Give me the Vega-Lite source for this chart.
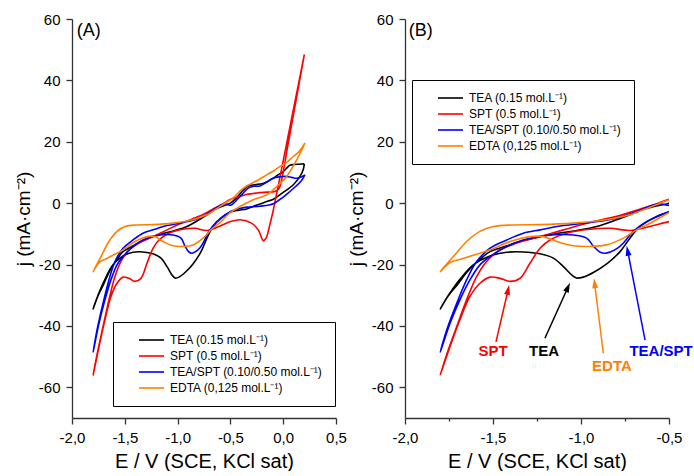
{
"$schema": "https://vega.github.io/schema/vega-lite/v6.json",
"padding": {"left": 14, "top": 12, "right": 0, "bottom": 0},
"bounds": "flush",
"spacing": 69,
"config": {
 "view": {"stroke": null},
 "font": "Liberation Sans",
 "axis": {"grid": false, "domainColor": "#333333", "tickColor": "#333333", "domainWidth": 1.3, "tickWidth": 1.3, "labelFont": "Liberation Sans", "labelFontSize": 15, "labelColor": "#000000", "titleFont": "Liberation Sans", "titleFontWeight": "normal", "titleColor": "#000000", "labelPadding": 6, "labelFlush": false, "labelOverlap": false, "labelBound": false},
 "axisX": {"titleFontSize": 20, "titlePadding": 6},
 "axisY": {"titleFontSize": 19, "titlePadding": 5},
 "legend": {"strokeColor": "#000000", "strokeWidth": 1, "fillColor": "#ffffff", "padding": 12, "labelFont": "Liberation Sans", "labelFontSize": 12, "labelColor": "#000000", "symbolType": "stroke", "symbolSize": 625, "symbolStrokeWidth": 1.6, "clipHeight": 12, "rowPadding": 4, "symbolOffset": 13, "labelOffset": 5}
},
"datasets": {
 "cv": [
  {"s":"TEA (0.15 mol.L⁻¹)","i":0,"E":0.2,"j":12.8},{"s":"TEA (0.15 mol.L⁻¹)","i":1,"E":0.15,"j":12.7},{"s":"TEA (0.15 mol.L⁻¹)","i":2,"E":0.1,"j":12.6},{"s":"TEA (0.15 mol.L⁻¹)","i":3,"E":0.06,"j":12.3},{"s":"TEA (0.15 mol.L⁻¹)","i":4,"E":0.03,"j":11.3},{"s":"TEA (0.15 mol.L⁻¹)","i":5,"E":0.0,"j":10.3},{"s":"TEA (0.15 mol.L⁻¹)","i":6,"E":-0.05,"j":9.2},{"s":"TEA (0.15 mol.L⁻¹)","i":7,"E":-0.1,"j":8.0},{"s":"TEA (0.15 mol.L⁻¹)","i":8,"E":-0.15,"j":7.0},{"s":"TEA (0.15 mol.L⁻¹)","i":9,"E":-0.2,"j":6.3},{"s":"TEA (0.15 mol.L⁻¹)","i":10,"E":-0.27,"j":6.0},{"s":"TEA (0.15 mol.L⁻¹)","i":11,"E":-0.33,"j":5.6},{"s":"TEA (0.15 mol.L⁻¹)","i":12,"E":-0.38,"j":4.2},{"s":"TEA (0.15 mol.L⁻¹)","i":13,"E":-0.44,"j":1.8},{"s":"TEA (0.15 mol.L⁻¹)","i":14,"E":-0.5,"j":0.0},{"s":"TEA (0.15 mol.L⁻¹)","i":15,"E":-0.57,"j":-0.9},{"s":"TEA (0.15 mol.L⁻¹)","i":16,"E":-0.646,"j":-2.0},{"s":"TEA (0.15 mol.L⁻¹)","i":17,"E":-0.722,"j":-3.8},{"s":"TEA (0.15 mol.L⁻¹)","i":18,"E":-0.797,"j":-5.4},{"s":"TEA (0.15 mol.L⁻¹)","i":19,"E":-0.911,"j":-7.6},{"s":"TEA (0.15 mol.L⁻¹)","i":20,"E":-1.025,"j":-8.9},{"s":"TEA (0.15 mol.L⁻¹)","i":21,"E":-1.13,"j":-9.8},{"s":"TEA (0.15 mol.L⁻¹)","i":22,"E":-1.233,"j":-10.9},{"s":"TEA (0.15 mol.L⁻¹)","i":23,"E":-1.33,"j":-12.2},{"s":"TEA (0.15 mol.L⁻¹)","i":24,"E":-1.422,"j":-13.9},{"s":"TEA (0.15 mol.L⁻¹)","i":25,"E":-1.517,"j":-15.8},{"s":"TEA (0.15 mol.L⁻¹)","i":26,"E":-1.58,"j":-18.6},{"s":"TEA (0.15 mol.L⁻¹)","i":27,"E":-1.65,"j":-22.6},{"s":"TEA (0.15 mol.L⁻¹)","i":28,"E":-1.7,"j":-26.4},{"s":"TEA (0.15 mol.L⁻¹)","i":29,"E":-1.754,"j":-30.2},{"s":"TEA (0.15 mol.L⁻¹)","i":30,"E":-1.8,"j":-34.5},{"s":"TEA (0.15 mol.L⁻¹)","i":31,"E":-1.77,"j":-31.5},{"s":"TEA (0.15 mol.L⁻¹)","i":32,"E":-1.73,"j":-28.0},{"s":"TEA (0.15 mol.L⁻¹)","i":33,"E":-1.688,"j":-24.8},{"s":"TEA (0.15 mol.L⁻¹)","i":34,"E":-1.612,"j":-20.1},{"s":"TEA (0.15 mol.L⁻¹)","i":35,"E":-1.517,"j":-17.2},{"s":"TEA (0.15 mol.L⁻¹)","i":36,"E":-1.422,"j":-16.0},{"s":"TEA (0.15 mol.L⁻¹)","i":37,"E":-1.328,"j":-15.9},{"s":"TEA (0.15 mol.L⁻¹)","i":38,"E":-1.233,"j":-16.5},{"s":"TEA (0.15 mol.L⁻¹)","i":39,"E":-1.157,"j":-17.9},{"s":"TEA (0.15 mol.L⁻¹)","i":40,"E":-1.1,"j":-20.7},{"s":"TEA (0.15 mol.L⁻¹)","i":41,"E":-1.053,"j":-23.4},{"s":"TEA (0.15 mol.L⁻¹)","i":42,"E":-1.025,"j":-24.4},{"s":"TEA (0.15 mol.L⁻¹)","i":43,"E":-0.987,"j":-24.1},{"s":"TEA (0.15 mol.L⁻¹)","i":44,"E":-0.93,"j":-22.6},{"s":"TEA (0.15 mol.L⁻¹)","i":45,"E":-0.854,"j":-19.8},{"s":"TEA (0.15 mol.L⁻¹)","i":46,"E":-0.778,"j":-15.8},{"s":"TEA (0.15 mol.L⁻¹)","i":47,"E":-0.722,"j":-11.4},{"s":"TEA (0.15 mol.L⁻¹)","i":48,"E":-0.665,"j":-7.6},{"s":"TEA (0.15 mol.L⁻¹)","i":49,"E":-0.589,"j":-4.9},{"s":"TEA (0.15 mol.L⁻¹)","i":50,"E":-0.498,"j":-2.9},{"s":"TEA (0.15 mol.L⁻¹)","i":51,"E":-0.42,"j":-2.3},{"s":"TEA (0.15 mol.L⁻¹)","i":52,"E":-0.346,"j":-1.9},{"s":"TEA (0.15 mol.L⁻¹)","i":53,"E":-0.28,"j":-1.0},{"s":"TEA (0.15 mol.L⁻¹)","i":54,"E":-0.22,"j":-0.3},{"s":"TEA (0.15 mol.L⁻¹)","i":55,"E":-0.15,"j":0.6},{"s":"TEA (0.15 mol.L⁻¹)","i":56,"E":-0.093,"j":1.3},{"s":"TEA (0.15 mol.L⁻¹)","i":57,"E":0.0,"j":3.5},{"s":"TEA (0.15 mol.L⁻¹)","i":58,"E":0.096,"j":6.0},{"s":"TEA (0.15 mol.L⁻¹)","i":59,"E":0.159,"j":8.7},{"s":"TEA (0.15 mol.L⁻¹)","i":60,"E":0.19,"j":11.0},{"s":"TEA (0.15 mol.L⁻¹)","i":61,"E":0.2,"j":12.8},
  {"s":"SPT (0.5 mol.L⁻¹)","i":0,"E":0.2,"j":48.4},{"s":"SPT (0.5 mol.L⁻¹)","i":1,"E":0.12,"j":33.2},{"s":"SPT (0.5 mol.L⁻¹)","i":2,"E":0.04,"j":18.0},{"s":"SPT (0.5 mol.L⁻¹)","i":3,"E":-0.01,"j":8.4},{"s":"SPT (0.5 mol.L⁻¹)","i":4,"E":-0.04,"j":4.8},{"s":"SPT (0.5 mol.L⁻¹)","i":5,"E":-0.08,"j":3.8},{"s":"SPT (0.5 mol.L⁻¹)","i":6,"E":-0.15,"j":3.6},{"s":"SPT (0.5 mol.L⁻¹)","i":7,"E":-0.25,"j":3.3},{"s":"SPT (0.5 mol.L⁻¹)","i":8,"E":-0.35,"j":2.8},{"s":"SPT (0.5 mol.L⁻¹)","i":9,"E":-0.43,"j":2.0},{"s":"SPT (0.5 mol.L⁻¹)","i":10,"E":-0.498,"j":1.3},{"s":"SPT (0.5 mol.L⁻¹)","i":11,"E":-0.57,"j":-0.2},{"s":"SPT (0.5 mol.L⁻¹)","i":12,"E":-0.646,"j":-1.6},{"s":"SPT (0.5 mol.L⁻¹)","i":13,"E":-0.722,"j":-3.0},{"s":"SPT (0.5 mol.L⁻¹)","i":14,"E":-0.797,"j":-4.3},{"s":"SPT (0.5 mol.L⁻¹)","i":15,"E":-0.949,"j":-6.3},{"s":"SPT (0.5 mol.L⁻¹)","i":16,"E":-1.1,"j":-8.7},{"s":"SPT (0.5 mol.L⁻¹)","i":17,"E":-1.233,"j":-10.9},{"s":"SPT (0.5 mol.L⁻¹)","i":18,"E":-1.366,"j":-13.0},{"s":"SPT (0.5 mol.L⁻¹)","i":19,"E":-1.46,"j":-15.2},{"s":"SPT (0.5 mol.L⁻¹)","i":20,"E":-1.536,"j":-19.0},{"s":"SPT (0.5 mol.L⁻¹)","i":21,"E":-1.593,"j":-23.9},{"s":"SPT (0.5 mol.L⁻¹)","i":22,"E":-1.65,"j":-31.5},{"s":"SPT (0.5 mol.L⁻¹)","i":23,"E":-1.706,"j":-40.2},{"s":"SPT (0.5 mol.L⁻¹)","i":24,"E":-1.754,"j":-47.8},{"s":"SPT (0.5 mol.L⁻¹)","i":25,"E":-1.8,"j":-56.0},{"s":"SPT (0.5 mol.L⁻¹)","i":26,"E":-1.744,"j":-46.7},{"s":"SPT (0.5 mol.L⁻¹)","i":27,"E":-1.688,"j":-38.0},{"s":"SPT (0.5 mol.L⁻¹)","i":28,"E":-1.631,"j":-30.4},{"s":"SPT (0.5 mol.L⁻¹)","i":29,"E":-1.574,"j":-26.1},{"s":"SPT (0.5 mol.L⁻¹)","i":30,"E":-1.517,"j":-24.1},{"s":"SPT (0.5 mol.L⁻¹)","i":31,"E":-1.46,"j":-24.5},{"s":"SPT (0.5 mol.L⁻¹)","i":32,"E":-1.403,"j":-25.5},{"s":"SPT (0.5 mol.L⁻¹)","i":33,"E":-1.347,"j":-24.5},{"s":"SPT (0.5 mol.L⁻¹)","i":34,"E":-1.29,"j":-19.6},{"s":"SPT (0.5 mol.L⁻¹)","i":35,"E":-1.233,"j":-14.7},{"s":"SPT (0.5 mol.L⁻¹)","i":36,"E":-1.176,"j":-12.0},{"s":"SPT (0.5 mol.L⁻¹)","i":37,"E":-1.081,"j":-9.8},{"s":"SPT (0.5 mol.L⁻¹)","i":38,"E":-0.949,"j":-8.5},{"s":"SPT (0.5 mol.L⁻¹)","i":39,"E":-0.835,"j":-8.2},{"s":"SPT (0.5 mol.L⁻¹)","i":40,"E":-0.722,"j":-8.9},{"s":"SPT (0.5 mol.L⁻¹)","i":41,"E":-0.608,"j":-7.6},{"s":"SPT (0.5 mol.L⁻¹)","i":42,"E":-0.498,"j":-6.0},{"s":"SPT (0.5 mol.L⁻¹)","i":43,"E":-0.409,"j":-5.4},{"s":"SPT (0.5 mol.L⁻¹)","i":44,"E":-0.3,"j":-6.5},{"s":"SPT (0.5 mol.L⁻¹)","i":45,"E":-0.235,"j":-8.8},{"s":"SPT (0.5 mol.L⁻¹)","i":46,"E":-0.188,"j":-12.2},{"s":"SPT (0.5 mol.L⁻¹)","i":47,"E":-0.16,"j":-11.2},{"s":"SPT (0.5 mol.L⁻¹)","i":48,"E":-0.13,"j":-7.5},{"s":"SPT (0.5 mol.L⁻¹)","i":49,"E":-0.1,"j":-3.2},{"s":"SPT (0.5 mol.L⁻¹)","i":50,"E":-0.08,"j":0.0},{"s":"SPT (0.5 mol.L⁻¹)","i":51,"E":0.0,"j":13.8},{"s":"SPT (0.5 mol.L⁻¹)","i":52,"E":0.1,"j":31.1},{"s":"SPT (0.5 mol.L⁻¹)","i":53,"E":0.2,"j":48.4},
  {"s":"TEA/SPT (0.10/0.50 mol.L⁻¹)","i":0,"E":0.206,"j":9.2},{"s":"TEA/SPT (0.10/0.50 mol.L⁻¹)","i":1,"E":0.17,"j":8.5},{"s":"TEA/SPT (0.10/0.50 mol.L⁻¹)","i":2,"E":0.128,"j":8.1},{"s":"TEA/SPT (0.10/0.50 mol.L⁻¹)","i":3,"E":0.08,"j":8.4},{"s":"TEA/SPT (0.10/0.50 mol.L⁻¹)","i":4,"E":0.033,"j":8.7},{"s":"TEA/SPT (0.10/0.50 mol.L⁻¹)","i":5,"E":-0.03,"j":8.6},{"s":"TEA/SPT (0.10/0.50 mol.L⁻¹)","i":6,"E":-0.093,"j":8.2},{"s":"TEA/SPT (0.10/0.50 mol.L⁻¹)","i":7,"E":-0.16,"j":6.8},{"s":"TEA/SPT (0.10/0.50 mol.L⁻¹)","i":8,"E":-0.22,"j":5.6},{"s":"TEA/SPT (0.10/0.50 mol.L⁻¹)","i":9,"E":-0.28,"j":5.5},{"s":"TEA/SPT (0.10/0.50 mol.L⁻¹)","i":10,"E":-0.33,"j":4.9},{"s":"TEA/SPT (0.10/0.50 mol.L⁻¹)","i":11,"E":-0.4,"j":2.5},{"s":"TEA/SPT (0.10/0.50 mol.L⁻¹)","i":12,"E":-0.46,"j":0.3},{"s":"TEA/SPT (0.10/0.50 mol.L⁻¹)","i":13,"E":-0.5,"j":-0.7},{"s":"TEA/SPT (0.10/0.50 mol.L⁻¹)","i":14,"E":-0.54,"j":-0.3},{"s":"TEA/SPT (0.10/0.50 mol.L⁻¹)","i":15,"E":-0.589,"j":-0.6},{"s":"TEA/SPT (0.10/0.50 mol.L⁻¹)","i":16,"E":-0.684,"j":-2.7},{"s":"TEA/SPT (0.10/0.50 mol.L⁻¹)","i":17,"E":-0.797,"j":-4.9},{"s":"TEA/SPT (0.10/0.50 mol.L⁻¹)","i":18,"E":-0.949,"j":-6.3},{"s":"TEA/SPT (0.10/0.50 mol.L⁻¹)","i":19,"E":-1.1,"j":-7.3},{"s":"TEA/SPT (0.10/0.50 mol.L⁻¹)","i":20,"E":-1.233,"j":-8.7},{"s":"TEA/SPT (0.10/0.50 mol.L⁻¹)","i":21,"E":-1.328,"j":-9.8},{"s":"TEA/SPT (0.10/0.50 mol.L⁻¹)","i":22,"E":-1.422,"j":-12.0},{"s":"TEA/SPT (0.10/0.50 mol.L⁻¹)","i":23,"E":-1.517,"j":-14.7},{"s":"TEA/SPT (0.10/0.50 mol.L⁻¹)","i":24,"E":-1.593,"j":-19.0},{"s":"TEA/SPT (0.10/0.50 mol.L⁻¹)","i":25,"E":-1.65,"j":-25.0},{"s":"TEA/SPT (0.10/0.50 mol.L⁻¹)","i":26,"E":-1.706,"j":-32.6},{"s":"TEA/SPT (0.10/0.50 mol.L⁻¹)","i":27,"E":-1.763,"j":-41.3},{"s":"TEA/SPT (0.10/0.50 mol.L⁻¹)","i":28,"E":-1.8,"j":-48.6},{"s":"TEA/SPT (0.10/0.50 mol.L⁻¹)","i":29,"E":-1.744,"j":-39.1},{"s":"TEA/SPT (0.10/0.50 mol.L⁻¹)","i":30,"E":-1.688,"j":-31.5},{"s":"TEA/SPT (0.10/0.50 mol.L⁻¹)","i":31,"E":-1.631,"j":-25.0},{"s":"TEA/SPT (0.10/0.50 mol.L⁻¹)","i":32,"E":-1.574,"j":-20.1},{"s":"TEA/SPT (0.10/0.50 mol.L⁻¹)","i":33,"E":-1.517,"j":-17.4},{"s":"TEA/SPT (0.10/0.50 mol.L⁻¹)","i":34,"E":-1.441,"j":-14.7},{"s":"TEA/SPT (0.10/0.50 mol.L⁻¹)","i":35,"E":-1.328,"j":-12.0},{"s":"TEA/SPT (0.10/0.50 mol.L⁻¹)","i":36,"E":-1.214,"j":-10.7},{"s":"TEA/SPT (0.10/0.50 mol.L⁻¹)","i":37,"E":-1.063,"j":-10.3},{"s":"TEA/SPT (0.10/0.50 mol.L⁻¹)","i":38,"E":-0.968,"j":-11.4},{"s":"TEA/SPT (0.10/0.50 mol.L⁻¹)","i":39,"E":-0.93,"j":-14.0},{"s":"TEA/SPT (0.10/0.50 mol.L⁻¹)","i":40,"E":-0.89,"j":-16.0},{"s":"TEA/SPT (0.10/0.50 mol.L⁻¹)","i":41,"E":-0.864,"j":-16.3},{"s":"TEA/SPT (0.10/0.50 mol.L⁻¹)","i":42,"E":-0.83,"j":-15.8},{"s":"TEA/SPT (0.10/0.50 mol.L⁻¹)","i":43,"E":-0.79,"j":-14.6},{"s":"TEA/SPT (0.10/0.50 mol.L⁻¹)","i":44,"E":-0.759,"j":-13.0},{"s":"TEA/SPT (0.10/0.50 mol.L⁻¹)","i":45,"E":-0.703,"j":-9.2},{"s":"TEA/SPT (0.10/0.50 mol.L⁻¹)","i":46,"E":-0.627,"j":-6.0},{"s":"TEA/SPT (0.10/0.50 mol.L⁻¹)","i":47,"E":-0.498,"j":-2.7},{"s":"TEA/SPT (0.10/0.50 mol.L⁻¹)","i":48,"E":-0.42,"j":-1.8},{"s":"TEA/SPT (0.10/0.50 mol.L⁻¹)","i":49,"E":-0.346,"j":-1.3},{"s":"TEA/SPT (0.10/0.50 mol.L⁻¹)","i":50,"E":-0.22,"j":-1.0},{"s":"TEA/SPT (0.10/0.50 mol.L⁻¹)","i":51,"E":-0.093,"j":-0.2},{"s":"TEA/SPT (0.10/0.50 mol.L⁻¹)","i":52,"E":0.0,"j":2.0},{"s":"TEA/SPT (0.10/0.50 mol.L⁻¹)","i":53,"E":0.064,"j":3.8},{"s":"TEA/SPT (0.10/0.50 mol.L⁻¹)","i":54,"E":0.12,"j":5.5},{"s":"TEA/SPT (0.10/0.50 mol.L⁻¹)","i":55,"E":0.17,"j":7.2},{"s":"TEA/SPT (0.10/0.50 mol.L⁻¹)","i":56,"E":0.206,"j":9.2},
  {"s":"EDTA (0,125 mol.L⁻¹)","i":0,"E":0.206,"j":19.6},{"s":"EDTA (0,125 mol.L⁻¹)","i":1,"E":0.15,"j":16.8},{"s":"EDTA (0,125 mol.L⁻¹)","i":2,"E":0.096,"j":15.2},{"s":"EDTA (0,125 mol.L⁻¹)","i":3,"E":0.03,"j":13.2},{"s":"EDTA (0,125 mol.L⁻¹)","i":4,"E":-0.03,"j":12.0},{"s":"EDTA (0,125 mol.L⁻¹)","i":5,"E":-0.1,"j":10.3},{"s":"EDTA (0,125 mol.L⁻¹)","i":6,"E":-0.157,"j":9.2},{"s":"EDTA (0,125 mol.L⁻¹)","i":7,"E":-0.25,"j":7.3},{"s":"EDTA (0,125 mol.L⁻¹)","i":8,"E":-0.346,"j":5.6},{"s":"EDTA (0,125 mol.L⁻¹)","i":9,"E":-0.41,"j":3.9},{"s":"EDTA (0,125 mol.L⁻¹)","i":10,"E":-0.47,"j":1.8},{"s":"EDTA (0,125 mol.L⁻¹)","i":11,"E":-0.54,"j":0.2},{"s":"EDTA (0,125 mol.L⁻¹)","i":12,"E":-0.608,"j":-1.3},{"s":"EDTA (0,125 mol.L⁻¹)","i":13,"E":-0.722,"j":-3.8},{"s":"EDTA (0,125 mol.L⁻¹)","i":14,"E":-0.854,"j":-5.4},{"s":"EDTA (0,125 mol.L⁻¹)","i":15,"E":-1.044,"j":-6.5},{"s":"EDTA (0,125 mol.L⁻¹)","i":16,"E":-1.233,"j":-7.0},{"s":"EDTA (0,125 mol.L⁻¹)","i":17,"E":-1.384,"j":-7.1},{"s":"EDTA (0,125 mol.L⁻¹)","i":18,"E":-1.498,"j":-7.6},{"s":"EDTA (0,125 mol.L⁻¹)","i":19,"E":-1.574,"j":-9.2},{"s":"EDTA (0,125 mol.L⁻¹)","i":20,"E":-1.65,"j":-12.5},{"s":"EDTA (0,125 mol.L⁻¹)","i":21,"E":-1.725,"j":-17.4},{"s":"EDTA (0,125 mol.L⁻¹)","i":22,"E":-1.8,"j":-22.3},{"s":"EDTA (0,125 mol.L⁻¹)","i":23,"E":-1.74,"j":-19.2},{"s":"EDTA (0,125 mol.L⁻¹)","i":24,"E":-1.68,"j":-18.2},{"s":"EDTA (0,125 mol.L⁻¹)","i":25,"E":-1.612,"j":-17.0},{"s":"EDTA (0,125 mol.L⁻¹)","i":26,"E":-1.517,"j":-15.2},{"s":"EDTA (0,125 mol.L⁻¹)","i":27,"E":-1.403,"j":-12.5},{"s":"EDTA (0,125 mol.L⁻¹)","i":28,"E":-1.29,"j":-10.9},{"s":"EDTA (0,125 mol.L⁻¹)","i":29,"E":-1.214,"j":-10.9},{"s":"EDTA (0,125 mol.L⁻¹)","i":30,"E":-1.138,"j":-12.5},{"s":"EDTA (0,125 mol.L⁻¹)","i":31,"E":-1.044,"j":-13.9},{"s":"EDTA (0,125 mol.L⁻¹)","i":32,"E":-0.949,"j":-14.1},{"s":"EDTA (0,125 mol.L⁻¹)","i":33,"E":-0.854,"j":-13.6},{"s":"EDTA (0,125 mol.L⁻¹)","i":34,"E":-0.759,"j":-11.4},{"s":"EDTA (0,125 mol.L⁻¹)","i":35,"E":-0.684,"j":-8.7},{"s":"EDTA (0,125 mol.L⁻¹)","i":36,"E":-0.589,"j":-6.0},{"s":"EDTA (0,125 mol.L⁻¹)","i":37,"E":-0.498,"j":-3.0},{"s":"EDTA (0,125 mol.L⁻¹)","i":38,"E":-0.409,"j":-1.1},{"s":"EDTA (0,125 mol.L⁻¹)","i":39,"E":-0.283,"j":1.1},{"s":"EDTA (0,125 mol.L⁻¹)","i":40,"E":-0.157,"j":2.7},{"s":"EDTA (0,125 mol.L⁻¹)","i":41,"E":-0.062,"j":5.4},{"s":"EDTA (0,125 mol.L⁻¹)","i":42,"E":0.033,"j":8.7},{"s":"EDTA (0,125 mol.L⁻¹)","i":43,"E":0.128,"j":14.1},{"s":"EDTA (0,125 mol.L⁻¹)","i":44,"E":0.206,"j":19.6}
 ],
 "arrows": [
  {"k":"SPT","i":0,"E":-1.483,"j":-45.2},{"k":"SPT","i":1,"E":-1.414,"j":-28.2},
  {"k":"TEA","i":0,"E":-1.205,"j":-44.0},{"k":"TEA","i":1,"E":-1.074,"j":-27.4},
  {"k":"EDTA","i":0,"E":-0.873,"j":-48.9},{"k":"EDTA","i":1,"E":-0.9227,"j":-26.1},
  {"k":"TEA/SPT","i":0,"E":-0.636,"j":-44.6},{"k":"TEA/SPT","i":1,"E":-0.735,"j":-15.5}
 ],
 "labels": [
  {"k":"SPT","E":-1.5,"j":-48.2},{"k":"TEA","E":-1.21,"j":-48.2},{"k":"EDTA","E":-0.824,"j":-53.1},{"k":"TEA/SPT","E":-0.545,"j":-48.2}
 ]
},
"resolve": {"legend": {"color": "independent"}, "scale": {"color": "independent"}},
"hconcat": [
 {
  "width": 264, "height": 399,
  "layer": [
   {
    "data": {"name": "cv"},
    "mark": {"type": "line", "interpolate": "catmull-rom", "strokeWidth": 1.6, "clip": true},
    "encoding": {
     "x": {"field": "E", "type": "quantitative", "scale": {"domain": [-2, 0.5], "nice": false, "zero": false},
       "axis": {"title": "E / V (SCE, KCl sat)", "values": [-2,-1.75,-1.5,-1.25,-1,-0.75,-0.5,-0.25,0,0.25,0.5],
         "labelExpr": "abs(datum.value*2 - round(datum.value*2)) < 0.01 ? replace(replace(format(datum.value, '.1f'), '.', ','), '\u2212', '-') : ''",
         "tickSize": {"condition": {"test": "abs(datum.value*2 - round(datum.value*2)) < 0.01", "value": 6}, "value": 3}}},
     "y": {"field": "j", "type": "quantitative", "scale": {"domain": [-70, 60], "nice": false, "zero": false},
       "axis": {"title": "j (mA·cm⁻²)", "values": [-60,-50,-40,-30,-20,-10,0,10,20,30,40,50,60],
         "labelExpr": "datum.value % 20 == 0 ? (datum.value < 0 ? '-' : '') + abs(datum.value) : ''",
         "tickSize": {"condition": {"test": "datum.value % 20 == 0", "value": 6}, "value": 3}}},
     "color": {"field": "s", "type": "nominal",
       "scale": {"domain": ["TEA (0.15 mol.L⁻¹)", "SPT (0.5 mol.L⁻¹)", "TEA/SPT (0.10/0.50 mol.L⁻¹)", "EDTA (0,125 mol.L⁻¹)"], "range": ["#000000", "#ff0000", "#0000ff", "#ff8000"]},
       "legend": {"title": null, "orient": "none", "legendX": 41, "legendY": 303, "labelExpr": "datum.label + '\u00a0\u00a0\u00a0\u00a0\u00a0\u00a0\u00a0'"}},
     "order": {"field": "i", "type": "quantitative"}
    }
   },
   {
    "data": {"values": [{"E": -1.955, "j": 59, "t": "(A)"}]},
    "mark": {"type": "text", "align": "left", "baseline": "top", "fontSize": 18, "font": "Liberation Sans", "color": "#000000"},
    "encoding": {"x": {"field": "E", "type": "quantitative"}, "y": {"field": "j", "type": "quantitative"}, "text": {"field": "t"}}
   }
  ]
 },
 {
  "width": 264, "height": 399,
  "layer": [
   {
    "data": {"name": "cv"},
    "mark": {"type": "line", "interpolate": "catmull-rom", "strokeWidth": 1.6, "clip": true},
    "encoding": {
     "x": {"field": "E", "type": "quantitative", "scale": {"domain": [-2, -0.5], "nice": false, "zero": false},
       "axis": {"title": "E / V (SCE, KCl sat)", "values": [-2,-1.75,-1.5,-1.25,-1,-0.75,-0.5],
         "labelExpr": "abs(datum.value*2 - round(datum.value*2)) < 0.01 ? replace(replace(format(datum.value, '.1f'), '.', ','), '\u2212', '-') : ''",
         "tickSize": {"condition": {"test": "abs(datum.value*2 - round(datum.value*2)) < 0.01", "value": 6}, "value": 3}}},
     "y": {"field": "j", "type": "quantitative", "scale": {"domain": [-70, 60], "nice": false, "zero": false},
       "axis": {"title": "j (mA·cm⁻²)", "values": [-60,-50,-40,-30,-20,-10,0,10,20,30,40,50,60],
         "labelExpr": "datum.value % 20 == 0 ? (datum.value < 0 ? '-' : '') + abs(datum.value) : ''",
         "tickSize": {"condition": {"test": "datum.value % 20 == 0", "value": 6}, "value": 3}}},
     "color": {"field": "s", "type": "nominal",
       "scale": {"domain": ["TEA (0.15 mol.L⁻¹)", "SPT (0.5 mol.L⁻¹)", "TEA/SPT (0.10/0.50 mol.L⁻¹)", "EDTA (0,125 mol.L⁻¹)"], "range": ["#000000", "#ff0000", "#0000ff", "#ff8000"]},
       "legend": {"title": null, "orient": "none", "legendX": 7, "legendY": 61, "labelExpr": "datum.label + '\u00a0\u00a0\u00a0\u00a0\u00a0\u00a0\u00a0'"}},
     "order": {"field": "i", "type": "quantitative"}
    }
   },
   {
    "data": {"name": "arrows"},
    "mark": {"type": "line", "strokeWidth": 1.5},
    "encoding": {"x": {"field": "E", "type": "quantitative"}, "y": {"field": "j", "type": "quantitative"},
      "stroke": {"field": "k", "type": "nominal", "scale": {"domain": ["TEA", "SPT", "TEA/SPT", "EDTA"], "range": ["#000000", "#ff0000", "#0000ff", "#ff8000"]}, "legend": null},
      "order": {"field": "i", "type": "quantitative"}}
   },
   {
    "data": {"name": "arrows"},
    "transform": [{"filter": "datum.i == 1 && datum.k == 'SPT'"}],
    "mark": {"type": "point", "shape": "M0,-1L0.6,1L-0.6,1Z", "filled": true, "opacity": 1, "size": 100, "angle": 13, "color": "#ff0000", "strokeWidth": 0},
    "encoding": {"x": {"field": "E", "type": "quantitative"}, "y": {"field": "j", "type": "quantitative"}}
   },
   {
    "data": {"name": "arrows"},
    "transform": [{"filter": "datum.i == 1 && datum.k == 'TEA'"}],
    "mark": {"type": "point", "shape": "M0,-1L0.6,1L-0.6,1Z", "filled": true, "opacity": 1, "size": 100, "angle": 24, "color": "#000000", "strokeWidth": 0},
    "encoding": {"x": {"field": "E", "type": "quantitative"}, "y": {"field": "j", "type": "quantitative"}}
   },
   {
    "data": {"name": "arrows"},
    "transform": [{"filter": "datum.i == 1 && datum.k == 'EDTA'"}],
    "mark": {"type": "point", "shape": "M0,-1L0.6,1L-0.6,1Z", "filled": true, "opacity": 1, "size": 100, "angle": 353, "color": "#ff8000", "strokeWidth": 0},
    "encoding": {"x": {"field": "E", "type": "quantitative"}, "y": {"field": "j", "type": "quantitative"}}
   },
   {
    "data": {"name": "arrows"},
    "transform": [{"filter": "datum.i == 1 && datum.k == 'TEA/SPT'"}],
    "mark": {"type": "point", "shape": "M0,-1L0.6,1L-0.6,1Z", "filled": true, "opacity": 1, "size": 100, "angle": 349, "color": "#0000ff", "strokeWidth": 0},
    "encoding": {"x": {"field": "E", "type": "quantitative"}, "y": {"field": "j", "type": "quantitative"}}
   },
   {
    "data": {"name": "labels"},
    "mark": {"type": "text", "align": "center", "baseline": "middle", "fontSize": 15, "fontWeight": "bold", "font": "Liberation Sans"},
    "encoding": {"x": {"field": "E", "type": "quantitative"}, "y": {"field": "j", "type": "quantitative"}, "text": {"field": "k"},
      "fill": {"field": "k", "type": "nominal", "scale": {"domain": ["TEA", "SPT", "TEA/SPT", "EDTA"], "range": ["#000000", "#ff0000", "#0000ff", "#ff8000"]}, "legend": null}}
   },
   {
    "data": {"values": [{"E": -1.978, "j": 59, "t": "(B)"}]},
    "mark": {"type": "text", "align": "left", "baseline": "top", "fontSize": 18, "font": "Liberation Sans", "color": "#000000"},
    "encoding": {"x": {"field": "E", "type": "quantitative"}, "y": {"field": "j", "type": "quantitative"}, "text": {"field": "t"}}
   }
  ]
 }
]
}
